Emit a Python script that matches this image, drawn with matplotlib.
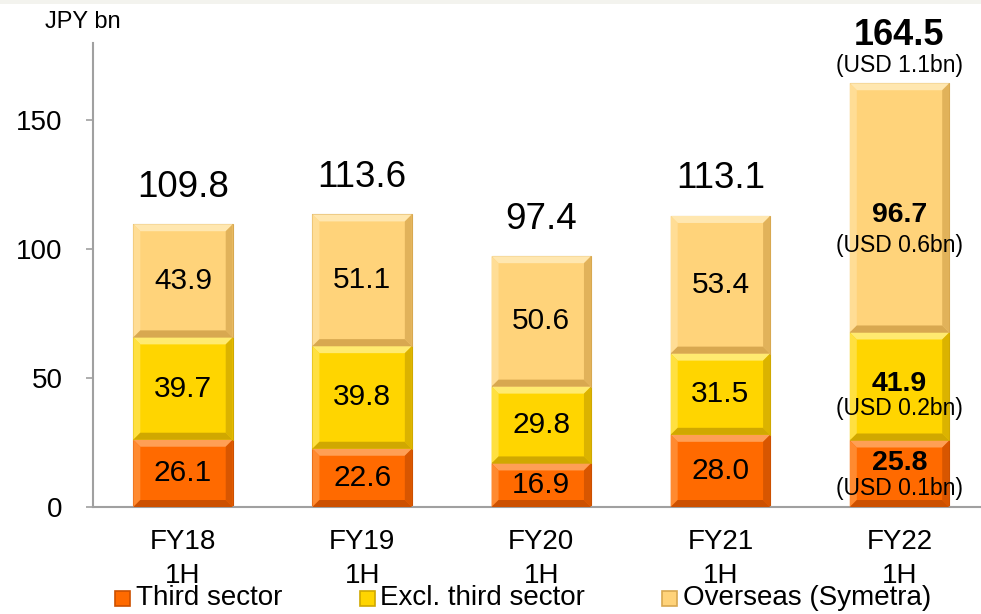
import matplotlib
matplotlib.use("Agg")
import matplotlib.pyplot as plt
from matplotlib.patches import Polygon, Rectangle
import numpy as np

plt.rcParams['font.family'] = ['Liberation Sans', 'DejaVu Sans']

categories = ["FY18\n1H", "FY19\n1H", "FY20\n1H", "FY21\n1H", "FY22\n1H"]
third_sector = [26.1, 22.6, 16.9, 28.0, 25.8]
excl_third = [39.7, 39.8, 29.8, 31.5, 41.9]
overseas = [43.9, 51.1, 50.6, 53.4, 96.7]
totals = [109.8, 113.6, 97.4, 113.1, 164.5]
series_names = ["Third sector", "Excl. third sector", "Overseas (Symetra)"]
usd_total_fy22 = "(USD 1.1bn)"
usd_seg_fy22 = ["(USD 0.1bn)", "(USD 0.2bn)", "(USD 0.6bn)"]

colors = ["#FF6A00", "#FFD500", "#FFD37A"]
light = ["#FF9F55", "#FFEA70", "#FFE7B0"]
midl = ["#FF8A30", "#FFE040", "#FFDD95"]
dark = ["#CC5000", "#D0A800", "#D8A850"]

# per-segment label offsets for the highlighted (last) bar, points
num_off = [8, 1.5, -5]
usd_off = [-10.5, -16, -27]

W, H = 981, 614
fig = plt.figure(figsize=(W / 100, H / 100), dpi=100)
fig.patch.set_facecolor("white")
ax = fig.add_axes([93 / W, (H - 507) / H, (W - 93) / W, (507 - 43) / H])
ax.set_xlim(-0.5025, 4.455)
ax.set_ylim(0, 180)

x = np.arange(len(categories))
bw = 0.555
px_x = 179.1          # pixels per x unit
px_y = 464 / 180.0    # pixels per y unit
bev = 7.0
bx = bev / px_x
by = bev / px_y

series = [third_sector, excl_third, overseas]
bottom = np.zeros(len(categories))
for si, vals in enumerate(series):
    vals = np.array(vals)
    ax.bar(x, vals, bw, bottom=bottom, color=colors[si], edgecolor=dark[si], linewidth=0.8, zorder=2)
    for i in range(len(x)):
        l, r = x[i] - bw / 2, x[i] + bw / 2
        b, t = bottom[i], bottom[i] + vals[i]
        ax.add_patch(Polygon([[l, t], [r, t], [r - bx, t - by], [l + bx, t - by]], closed=True,
                             facecolor=light[si], edgecolor="none", zorder=3))
        ax.add_patch(Polygon([[l, b], [l, t], [l + bx, t - by], [l + bx, b + by]], closed=True,
                             facecolor=midl[si], edgecolor="none", zorder=3))
        ax.add_patch(Polygon([[r, b], [r, t], [r - bx, t - by], [r - bx, b + by]], closed=True,
                             facecolor=dark[si], edgecolor="none", alpha=0.75, zorder=3))
        ax.add_patch(Polygon([[l, b], [r, b], [r - bx, b + by], [l + bx, b + by]], closed=True,
                             facecolor=dark[si], edgecolor="none", zorder=3))
        mid = b + vals[i] / 2
        if i == len(x) - 1:
            ax.annotate(f"{vals[i]:.1f}", (x[i], mid), xytext=(0, num_off[si]), textcoords="offset points",
                        ha="center", va="center", fontsize=20.5, fontweight="bold", zorder=5)
            ax.annotate(usd_seg_fy22[si], (x[i], mid), xytext=(0, usd_off[si]), textcoords="offset points",
                        ha="center", va="center", fontsize=16.5, zorder=5)
        else:
            ax.text(x[i], mid, f"{vals[i]:.1f}", ha="center", va="center", fontsize=21.5, zorder=5)
    bottom = bottom + vals

for i in range(len(x)):
    if i == len(x) - 1:
        ax.annotate(f"{totals[i]:.1f}", (x[i], totals[i]), xytext=(0, 34), textcoords="offset points",
                    ha="center", va="center", fontsize=26, fontweight="bold", annotation_clip=False)
        ax.annotate(usd_total_fy22, (x[i], totals[i]), xytext=(0, 12.5), textcoords="offset points",
                    ha="center", va="center", fontsize=16.5, annotation_clip=False)
    else:
        ax.annotate(f"{totals[i]:.1f}", (x[i], totals[i]), xytext=(0, 26.5), textcoords="offset points",
                    ha="center", va="center", fontsize=26.5, annotation_clip=False)

ax.set_yticks([0, 50, 100, 150])
ax.tick_params(axis="y", labelsize=20, length=5, width=1.2, color="#A0A0A0", pad=17)
ax.set_xticks(x)
ax.set_xticklabels(categories, fontsize=20, linespacing=1.4)
ax.tick_params(axis="x", length=0, pad=16)
for s in ["top", "right"]:
    ax.spines[s].set_visible(False)
for s in ["left", "bottom"]:
    ax.spines[s].set_color("#A0A0A0")
    ax.spines[s].set_linewidth(1.5)

fig.text(45 / W, 1 - 22 / H, "JPY bn", fontsize=17, va="center", ha="left")

# legend entries
leg_marker_x = [115, 360, 662]
leg_text_x = [136, 380, 683]
leg_y = 598
msz = 15
for k in range(3):
    fig.add_artist(Rectangle((leg_marker_x[k] / W, 1 - (leg_y + msz / 2) / H), msz / W, msz / H,
                             transform=fig.transFigure, facecolor=colors[k], edgecolor=dark[k],
                             linewidth=1.2))
    fig.text(leg_text_x[k] / W, 1 - leg_y / H, series_names[k], fontsize=20, va="center", ha="left")

fig.add_artist(Rectangle((0, 1 - 4 / H), 1, 4 / H, transform=fig.transFigure,
                         facecolor="#F3F3EE", edgecolor="none"))

fig.savefig("out.png", dpi=100)
